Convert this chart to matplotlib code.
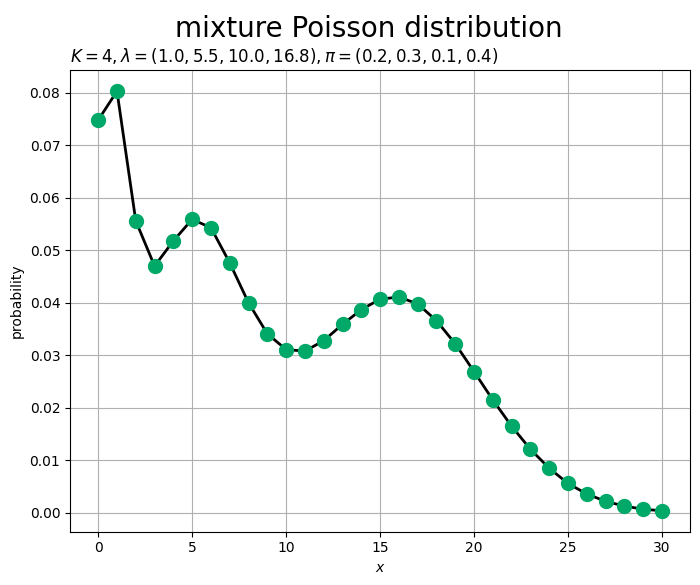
import matplotlib
matplotlib.use("Agg")
import matplotlib.pyplot as plt

x_vals = list(range(31))
prob = [0.0748, 0.0803, 0.0556, 0.0470, 0.0518, 0.0559, 0.0543, 0.0476, 0.0400, 0.0341,
        0.0311, 0.0308, 0.0328, 0.0359, 0.0387, 0.0407, 0.0411, 0.0398, 0.0366, 0.0322,
        0.0269, 0.0215, 0.0165, 0.0121, 0.0085, 0.0056, 0.0036, 0.0022, 0.0013, 0.0007,
        0.0004]
lambdas = [1.0, 5.5, 10.0, 16.8]
pis = [0.2, 0.3, 0.1, 0.4]
K = 4

fig = plt.figure(figsize=(7, 5.85), dpi=100)
ax = fig.add_axes([0.1, 0.091, 0.886, 0.789])
ax.plot(x_vals, prob, color="black", linewidth=2, marker="o", markersize=10,
        markerfacecolor="#00A968", markeredgecolor="#00A968")
ax.set_xlabel("$x$")
ax.set_ylabel("probability")
lam_s = ", ".join(str(v) for v in lambdas)
pi_s = ", ".join(str(v) for v in pis)
ax.set_title(r"$K=" + str(K) + r", \lambda=(" + lam_s + r"), \pi=(" + pi_s + r")$", loc="left")
fig.suptitle("mixture Poisson distribution", fontsize=20, x=0.5264, y=0.975)
ax.grid(True)
fig.savefig("out.png", dpi=100)
